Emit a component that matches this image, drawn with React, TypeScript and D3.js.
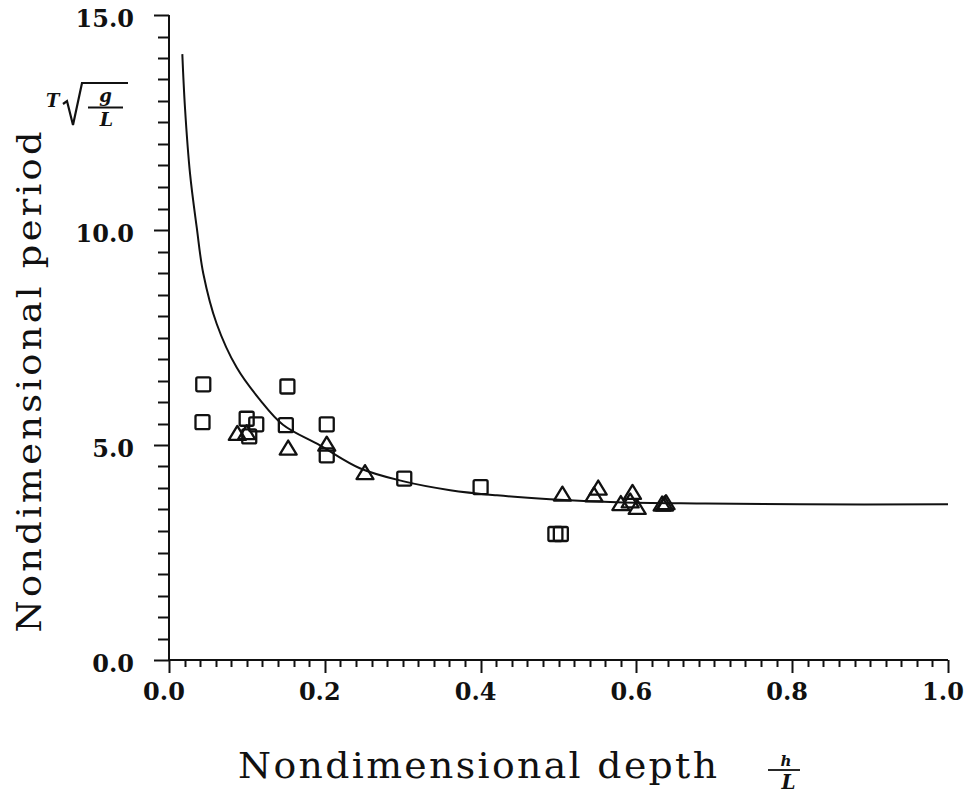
import React from "react";
import * as d3 from "d3";

// ---- data ----
const squareX = [0.044, 0.043, 0.0997, 0.112, 0.103, 0.152, 0.150, 0.2025, 0.2025, 0.302, 0.400, 0.496, 0.503];
const squareY = [6.41, 5.53, 5.61, 5.48, 5.20, 6.36, 5.46, 5.48, 4.76, 4.22, 4.02, 2.93, 2.93];

const triangleX = [0.0877, 0.0997, 0.153, 0.2025, 0.2516, 0.505, 0.551, 0.5456, 0.595, 0.580, 0.601, 0.592, 0.633, 0.636, 0.638];
const triangleY = [5.28, 5.30, 4.94, 5.03, 4.37, 3.87, 4.01, 3.85, 3.91, 3.65, 3.56, 3.71, 3.64, 3.64, 3.67];

const curveX = [0.0171, 0.0205, 0.027, 0.0356, 0.044, 0.0612, 0.0869, 0.1168, 0.1463, 0.1938, 0.245, 0.300, 0.361, 0.421, 0.489, 0.575, 0.682, 0.81, 1.0];
const curveY = [14.09, 12.85, 11.31, 10.06, 8.99, 7.82, 6.80, 6.05, 5.47, 4.99, 4.46, 4.16, 3.95, 3.83, 3.74, 3.67, 3.64, 3.62, 3.62];

const xMajorTicks = [0, 0.2, 0.4, 0.6, 0.8, 1.0];
const yMajorTicks = [0, 5, 10, 15];
const xTickLabels = ["0.0", "0.2", "0.4", "0.6", "0.8", "1.0"];
const yTickLabels = ["0.0", "5.0", "10.0", "15.0"];

const yTitle = "Nondimensional period";
const xTitle = "Nondimensional depth";

export default function App() {
  const W = 972;
  const H = 793;
  const x = d3.scaleLinear().domain([0, 1]).range([169, 948]);
  const y = d3.scaleLinear().domain([0, 15]).range([660, 15]);

  const xMinor = d3.range(0, 51).map((i) => i * 0.02);
  const yMinor = d3.range(0, 31).map((i) => i * 0.5);

  const line = d3
    .line<number>()
    .x((_, i) => x(curveX[i]))
    .y((_, i) => y(curveY[i]))
    .curve(d3.curveCatmullRom.alpha(0.5));

  const ink = "#111";
  const serif = "'DejaVu Serif', serif";
  const sq = 14;
  const triW = 17;
  const triH = 14;
  const stretch = 1.08;

  return (
    <svg
      width={W}
      height={H}
      style={{ position: "absolute", left: 0, top: 0, background: "#fff" }}
    >
      <rect x={0} y={0} width={W} height={H} fill="#fff" />
      {/* axes lines */}
      <line x1={x(0)} y1={y(15)} x2={x(0)} y2={y(0)} stroke={ink} strokeWidth={2} />
      <line x1={x(0)} y1={y(0)} x2={x(1)} y2={y(0)} stroke={ink} strokeWidth={2} />

      {/* y ticks */}
      {yMinor.map((v, i) => {
        const major = yMajorTicks.some((m) => Math.abs(m - v) < 1e-6);
        return (
          <line
            key={"ym" + i}
            x1={x(0) - (major ? 15 : 11)}
            x2={x(0)}
            y1={Math.round(y(v)) + 0.5}
            y2={Math.round(y(v)) + 0.5}
            stroke={ink}
            strokeWidth={2}
          />
        );
      })}
      {/* x ticks */}
      {xMinor.map((v, i) => {
        const major = xMajorTicks.some((m) => Math.abs(m - v) < 1e-6);
        return (
          <line
            key={"xm" + i}
            x1={Math.round(x(v)) + 0.5}
            x2={Math.round(x(v)) + 0.5}
            y1={y(0)}
            y2={y(0) + (major ? 13 : 7)}
            stroke={ink}
            strokeWidth={2}
          />
        );
      })}

      {/* tick labels */}
      {yMajorTicks.map((v, i) => (
        <text
          key={"yl" + i}
          x={134}
          y={y(v) + 11.5}
          textAnchor="end"
          fontFamily={serif}
          fontWeight="bold"
          fontSize={24}
          fill={ink}
        >
          {yTickLabels[i]}
        </text>
      ))}
      {xMajorTicks.map((v, i) => (
        <text
          key={"xl" + i}
          x={x(v) - 5}
          y={700}
          textAnchor="middle"
          fontFamily={serif}
          fontWeight="bold"
          fontSize={24}
          fill={ink}
        >
          {xTickLabels[i]}
        </text>
      ))}

      {/* curve */}
      <path d={line(curveX) || ""} fill="none" stroke={ink} strokeWidth={2} />

      {/* squares */}
      {squareX.map((v, i) => (
        <rect
          key={"s" + i}
          x={x(v) - sq / 2}
          y={y(squareY[i]) - sq / 2}
          width={sq}
          height={sq}
          rx={1.5}
          fill="none"
          stroke={ink}
          strokeWidth={2.3}
        />
      ))}
      {/* triangles */}
      {triangleX.map((v, i) => {
        const cx = x(v);
        const cy = y(triangleY[i]);
        const d = `M${cx - triW / 2},${cy + triH / 2} L${cx},${cy - triH / 2} L${cx + triW / 2},${cy + triH / 2} Z`;
        return (
          <path key={"t" + i} d={d} fill="none" stroke={ink} strokeWidth={2.3} strokeLinejoin="round" />
        );
      })}

      {/* y title */}
      <g transform={`translate(41,382) rotate(-90) scale(${stretch},1)`}>
        <text
          x={0}
          y={0}
          textAnchor="middle"
          fontFamily={serif}
          fontSize={34}
          textLength={501 / stretch}
          lengthAdjust="spacing"
          fill={ink}
        >
          {yTitle}
        </text>
      </g>
      {/* x title */}
      <g transform={`translate(238,778) scale(${stretch},1)`}>
        <text
          x={0}
          y={0}
          fontFamily={serif}
          fontSize={35}
          textLength={479 / stretch}
          lengthAdjust="spacing"
          fill={ink}
        >
          {xTitle}
        </text>
      </g>
      {/* h/L fraction */}
      <text x={786} y={766} textAnchor="middle" fontFamily={serif} fontStyle="italic" fontWeight="bold" fontSize={15} fill={ink}>
        h
      </text>
      <line x1={768} x2={800} y1={770} y2={770} stroke={ink} strokeWidth={1.8} />
      <text x={788.5} y={789} textAnchor="middle" fontFamily={serif} fontStyle="italic" fontWeight="bold" fontSize={20} fill={ink}>
        L
      </text>

      {/* T sqrt(g/L) */}
      <text x={46} y={107} fontFamily={serif} fontStyle="italic" fontWeight="bold" fontSize={18} fill={ink}>
        T
      </text>
      <path d="M63,104 L67,101 L73,125 L82,83 L128,83" fill="none" stroke={ink} strokeWidth={2.2} strokeLinejoin="miter" />
      <text x={105.5} y={102} textAnchor="middle" fontFamily={serif} fontStyle="italic" fontWeight="bold" fontSize={18} fill={ink}>
        g
      </text>
      <line x1={88} x2={123} y1={107.5} y2={107.5} stroke={ink} strokeWidth={2} />
      <text x={106.5} y={125.5} textAnchor="middle" fontFamily={serif} fontStyle="italic" fontWeight="bold" fontSize={19} fill={ink}>
        L
      </text>
    </svg>
  );
}
